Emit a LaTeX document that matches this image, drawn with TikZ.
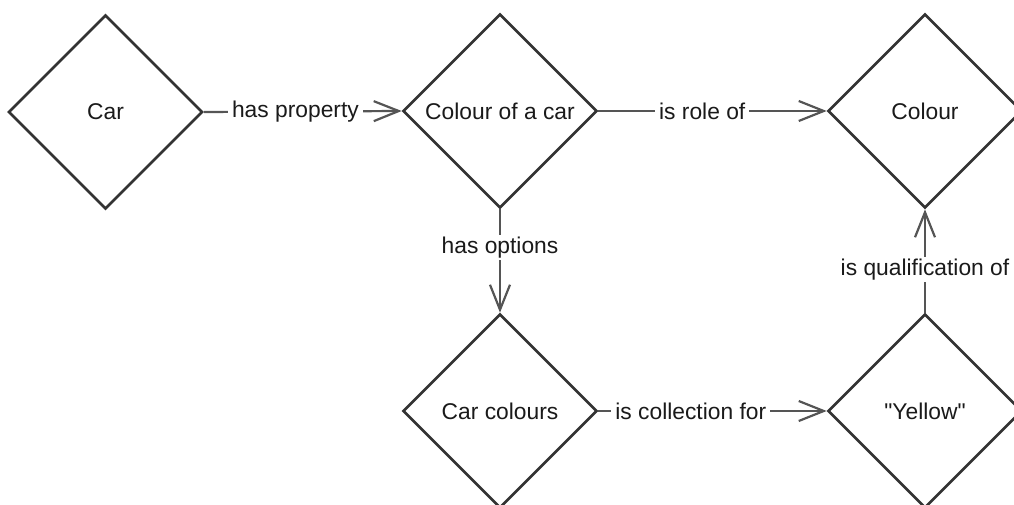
\documentclass[tikz,border=0pt]{standalone}
\usepackage{fontspec}
\newfontfamily\lib{Liberation Sans}
\usetikzlibrary{shapes.geometric,arrows.meta}
\definecolor{shapeline}{HTML}{333333}
\definecolor{edgeline}{HTML}{555555}
\definecolor{txt}{HTML}{1A1A1A}
\tikzset{
  dia/.style={diamond, aspect=1, minimum width=194pt, minimum height=194pt, inner sep=0pt,
    draw=shapeline, line width=2.6pt, fill=white, text=txt, font=\lib\fontsize{22.8}{27}\selectfont},
  conn/.style={draw=edgeline, line width=2.2pt, -{Straight Barb[length=25pt,width=20pt,line width=2.2pt]}},
  lbl/.style={fill=white, inner xsep=4pt, inner ysep=2pt, text=txt, font=\lib\fontsize{22.8}{27}\selectfont}
}
\begin{document}
\begin{tikzpicture}[x=1pt,y=-1pt]
\clip (0,0) rectangle (1014,505);
\fill[white] (0,0) rectangle (1014,505);
\node[dia] (car) at (105.5,112) {Car};
\node[dia] (coc) at (500,111) {Colour of a car};
\node[dia] (col) at (925,111) {Colour};
\node[dia] (cc) at (500,411) {Car colours};
\node[dia] (yel) at (925,411) {"Yellow"};
\draw[conn] (car.east) -- node[lbl, pos=0.463] {has property} (coc.west);
\draw[conn] (coc.east) -- node[lbl, pos=0.455] {is role of} (col.west);
\draw[conn] (coc.south) -- node[lbl, pos=0.37] {has options} (cc.north);
\draw[conn] (yel.north) -- node[lbl, pos=0.42] {is qualification of} (col.south);
\draw[conn] (cc.east) -- node[lbl, pos=0.405] {is collection for} (yel.west);
\end{tikzpicture}
\end{document}
